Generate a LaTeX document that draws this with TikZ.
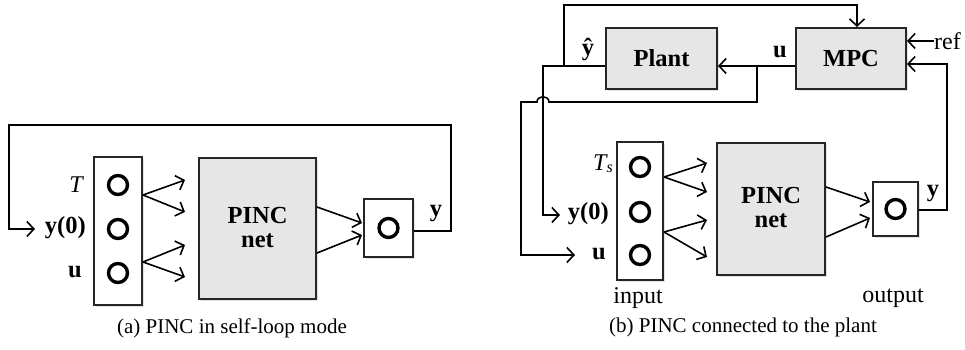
\documentclass[tikz,border=0pt]{standalone}
\usepackage{fontspec}
\setmainfont{Liberation Serif}
\usetikzlibrary{arrows.meta,shadows,calc}
\definecolor{boxgray}{HTML}{E6E6E6}
\definecolor{edgec}{HTML}{262626}
\begin{document}
\begin{tikzpicture}[x=1pt,y=-1pt,
  conn/.style={line width=1.6pt, draw=black},
  arr/.style={conn, -{Straight Barb[length=7pt,width=15pt]}},
  blk/.style={draw=edgec, line width=2pt, fill=#1, inner sep=0pt,
     drop shadow={shadow xshift=2pt, shadow yshift=-2pt, opacity=0.22}},
  dot/.style={circle, draw=black, line width=3.4pt, minimum size=19pt, inner sep=0pt},
  lab/.style={font=\fontsize{24.5}{24}\selectfont\bfseries, inner sep=0pt},
  ital/.style={font=\fontsize{24}{24}\selectfont\itshape, inner sep=0pt},
  reg/.style={font=\fontsize{24}{24}\selectfont, inner sep=0pt},
  captext/.style={font=\fontsize{21}{24}\selectfont, inner sep=0pt}]
\useasboundingbox (0,0) rectangle (965,350);

% ---------------- (a) ----------------
\node[blk=white, minimum width=48pt, minimum height=148pt] (inA) at (118,231) {};
\node[dot] (cA1) at (118,185) {};
\node[dot] (cA2) at (118,229) {};
\node[dot] (cA3) at (118,273) {};
\node[ital, anchor=east] (lTA) at (83,185) {T};
\node[lab, anchor=east] (ly0A) at (86,228) {y(0)};
\node[lab, anchor=east] (luA) at (82,272) {u};

\node[blk=boxgray, minimum width=117pt, minimum height=141pt] (pincA) at (257.5,228.5) {};
\node[lab] (pincAt1) at (257.5,216) {PINC};
\node[lab] (pincAt2) at (257.5,240.5) {net};

\node[blk=white, minimum width=49pt, minimum height=58pt] (outA) at (388.5,228) {};
\node[dot] (oA) at (388.5,228) {};
\node[lab] (yA) at (436,214) {y};

\coordinate (tA1) at (185,180);
\coordinate (tA2) at (185,212);
\coordinate (tA3) at (185,245);
\coordinate (tA4) at (185,277);
\draw[arr] (inA.east |- 0,195) -- (tA1);
\draw[arr] (inA.east |- 0,195) -- (tA2);
\draw[arr] (inA.east |- 0,262) -- (tA3);
\draw[arr] (inA.east |- 0,262) -- (tA4);

\coordinate (oA1) at (362,223);
\coordinate (oA2) at (362,235);
\draw[arr] (pincA.east |- 0,207) -- (oA1);
\draw[arr] (pincA.east |- 0,253) -- (oA2);

\coordinate (tY0A) at (35,229);
\draw[arr] (outA.east |- 0,231) -- (451,231) -- (451,125) -- (9,125) -- (9,229) -- (tY0A);

\node[captext] (capA) at (232,328) {(a) PINC in self-loop mode};

% ---------------- (b) ----------------
\node[blk=boxgray, minimum width=111pt, minimum height=61pt] (Plant) at (661.5,58.5) {};
\node[lab] (Plantt) at (661.5,58.5) {Plant};
\node[blk=boxgray, minimum width=110pt, minimum height=61pt] (MPC) at (851,58.5) {};
\node[lab] (MPCt) at (851,58.5) {MPC};
\node[lab] (yhat) at (588,50) {ŷ};
\node[lab] (uB) at (780,52) {u};
\node[reg, anchor=west] (ref) at (934,41) {ref};

\node[blk=white, minimum width=46pt, minimum height=138pt] (inB) at (640,211) {};
\node[dot] (cB1) at (640,167) {};
\node[dot] (cB2) at (640,212) {};
\node[dot] (cB3) at (640,255) {};
\node[ital, anchor=east] (lTB) at (613,164) {T\raisebox{-0.2ex}{\fontsize{16}{16}\selectfont s}};
\node[lab, anchor=east] (ly0B) at (609,214) {y(0)};
\node[lab, anchor=east] (luB) at (606,254) {u};

\node[blk=boxgray, minimum width=108pt, minimum height=132pt] (pincB) at (771,209) {};
\node[lab] (pincBt1) at (771,196) {PINC};
\node[lab] (pincBt2) at (771,220.5) {net};

\node[blk=white, minimum width=45pt, minimum height=54pt] (outB) at (895.5,209) {};
\node[dot] (oB) at (895.5,209) {};
\node[lab] (yB) at (933,194) {y};

\node[reg] (inlab) at (638,298) {input};
\node[reg] (outlab) at (893,298) {output};
\node[captext] (capB) at (743,327) {(b) PINC connected to the plant};

\coordinate (tB1) at (707,163);
\coordinate (tB2) at (707,192);
\coordinate (tB3) at (707,220);
\coordinate (tB4) at (707,257);
\draw[arr] (inB.east |- 0,177) -- (tB1);
\draw[arr] (inB.east |- 0,177) -- (tB2);
\draw[arr] (inB.east |- 0,232) -- (tB3);
\draw[arr] (inB.east |- 0,232) -- (tB4);

\coordinate (oB1) at (870,202);
\coordinate (oB2) at (870,218);
\draw[arr] (pincB.east |- 0,187) -- (oB1);
\draw[arr] (pincB.east |- 0,237) -- (oB2);

% u from MPC to Plant
\draw[arr] (MPC.west |- 0,66) -- (Plant.east |- 0,66);
\coordinate (ju) at (757,66);
\coordinate (tUB) at (575,255);
\draw[arr] (ju) -- (757,102) -- (549,102) .. controls (549,95) and (537,95) .. (537,102) -- (521,102) -- (521,255) -- (tUB);

% y-hat from Plant
\coordinate (jy) at (564,66);
\coordinate (tY0B) at (560,215);
\draw[arr] (Plant.west |- 0,66) -- (543,66) -- (543,215) -- (tY0B);
\draw[arr] (jy) -- (564,5) -- (857,5) -- (857,0 |- MPC.north);

% ref
\draw[arr] (ref.west) -- (MPC.east |- ref.west);

% feedback y to MPC
\draw[arr] (outB.east |- 0,210) -- (947,210) -- (947,64) -- (MPC.east |- 0,64);
\end{tikzpicture}
\end{document}
